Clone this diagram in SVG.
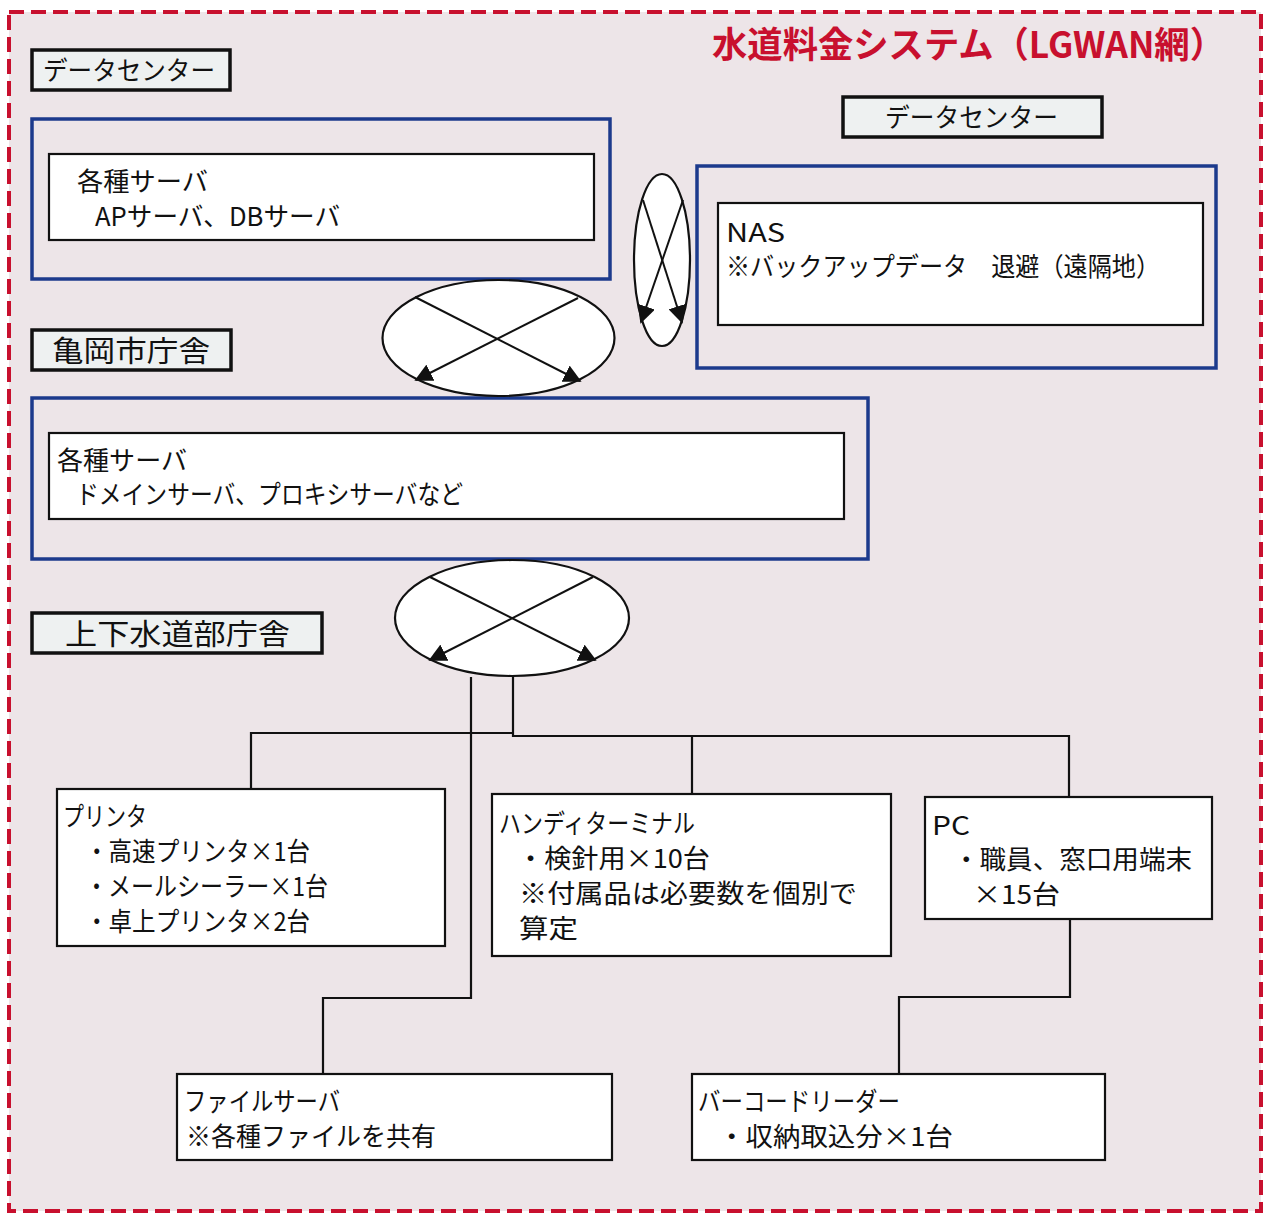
<svg xmlns="http://www.w3.org/2000/svg" width="1265" height="1214" viewBox="0 0 1265 1214">
<style>
text{font-family:"Noto Sans CJK JP","Noto Sans",sans-serif;fill:#111;}
.t{font-size:26px;}
.lbl{font-size:29px;}
.title{font-size:36px;font-weight:bold;fill:#c8102e;}
.tag{fill:#eef1f1;stroke:#111;stroke-width:3.5;}
.grp{fill:none;stroke:#1c3a8c;stroke-width:3.5;}
.box{fill:#fff;stroke:#111;stroke-width:2.2;}
.ell{fill:#fff;stroke:#111;stroke-width:2.2;}
.arr{stroke:#111;stroke-width:2;fill:none;marker-end:url(#ah);}
.wire{stroke:#111;stroke-width:2.2;fill:none;}
</style>
<defs>
<marker id="ah" viewBox="0 0 10 10" refX="9" refY="5" markerWidth="18" markerHeight="18" markerUnits="userSpaceOnUse" orient="auto">
<path d="M0,0 L10,5 L0,10 z" fill="#111"/>
</marker>
</defs>
<rect x="0" y="0" width="1265" height="1214" fill="#fff"/>
<rect x="9" y="12" width="1252" height="1199" fill="#ede5e8" stroke="#c8102e" stroke-width="4" stroke-dasharray="15 7"/>
<g id="title"><text class="title" x="712" y="58" textLength="513" lengthAdjust="spacingAndGlyphs">水道料金システム（LGWAN網）</text></g>

<g id="tag-dc1"><rect class="tag" x="32" y="50" width="198" height="40"/><text class="t" x="43" y="80" textLength="172" lengthAdjust="spacingAndGlyphs">データセンター</text></g>
<g id="tag-dc2"><rect class="tag" x="843" y="97" width="259" height="40"/><text class="t" x="885" y="127" textLength="173" lengthAdjust="spacingAndGlyphs">データセンター</text></g>
<g id="tag-city"><rect class="tag" x="32" y="330" width="199" height="40"/><text class="lbl" x="52" y="362" textLength="158" lengthAdjust="spacingAndGlyphs">亀岡市庁舎</text></g>
<g id="tag-water"><rect class="tag" x="32" y="613" width="290" height="40"/><text class="lbl" x="65" y="645" textLength="225" lengthAdjust="spacingAndGlyphs">上下水道部庁舎</text></g>

<g id="dc-servers">
<rect class="grp" x="32" y="119" width="578" height="160"/>
<rect class="box" x="49" y="154" width="545" height="86"/>
<text class="t" x="77" y="191" textLength="131" lengthAdjust="spacingAndGlyphs">各種サーバ</text>
<text class="t" x="95" y="226" textLength="245" lengthAdjust="spacingAndGlyphs">APサーバ、DBサーバ</text>
</g>
<g id="dc-nas">
<rect class="grp" x="697" y="166" width="519" height="202"/>
<rect class="box" x="718" y="203" width="485" height="122"/>
<text class="t" x="726" y="242" textLength="59" lengthAdjust="spacingAndGlyphs">NAS</text>
<text class="t" x="726" y="276" textLength="434" lengthAdjust="spacingAndGlyphs">※バックアップデータ　退避（遠隔地）</text>
</g>
<g id="city-servers">
<rect class="grp" x="32" y="398" width="836" height="161"/>
<rect class="box" x="49" y="433" width="795" height="86"/>
<text class="t" x="57" y="470" textLength="130" lengthAdjust="spacingAndGlyphs">各種サーバ</text>
<text class="t" x="76" y="504" textLength="387" lengthAdjust="spacingAndGlyphs">ドメインサーバ、プロキシサーバなど</text>
</g>

<g id="net1"><ellipse class="ell" cx="498.5" cy="338" rx="116" ry="58"/></g>
<g id="net2"><ellipse class="ell" cx="662" cy="260" rx="28" ry="86"/></g>
<g id="net3"><ellipse class="ell" cx="512" cy="618" rx="117" ry="58"/></g>

<g id="printer">
<rect class="box" x="57" y="789" width="388" height="157"/>
<text class="t" x="63" y="826" textLength="84" lengthAdjust="spacingAndGlyphs">プリンタ</text>
<text class="t" x="85" y="861" textLength="225" lengthAdjust="spacingAndGlyphs">・高速プリンタ×1台</text>
<text class="t" x="85" y="896" textLength="243" lengthAdjust="spacingAndGlyphs">・メールシーラー×1台</text>
<text class="t" x="85" y="931" textLength="225" lengthAdjust="spacingAndGlyphs">・卓上プリンタ×2台</text>
</g>
<g id="handy">
<rect class="box" x="492" y="794" width="399" height="162"/>
<text class="t" x="499" y="833" textLength="196" lengthAdjust="spacingAndGlyphs">ハンディターミナル</text>
<text class="t" x="517" y="868" textLength="193" lengthAdjust="spacingAndGlyphs">・検針用×10台</text>
<text class="t" x="519" y="903" textLength="338" lengthAdjust="spacingAndGlyphs">※付属品は必要数を個別で</text>
<text class="t" x="519" y="938" textLength="59" lengthAdjust="spacingAndGlyphs">算定</text>
</g>
<g id="pc">
<rect class="box" x="925" y="797" width="287" height="122"/>
<text class="t" x="932" y="835" textLength="38" lengthAdjust="spacingAndGlyphs">PC</text>
<text class="t" x="953" y="869" textLength="239" lengthAdjust="spacingAndGlyphs">・職員、窓口用端末</text>
<text class="t" x="973" y="904" textLength="87" lengthAdjust="spacingAndGlyphs">×15台</text>
</g>
<g id="fileserver">
<rect class="box" x="177" y="1074" width="435" height="86"/>
<text class="t" x="184" y="1111" textLength="156" lengthAdjust="spacingAndGlyphs">ファイルサーバ</text>
<text class="t" x="186" y="1146" textLength="250" lengthAdjust="spacingAndGlyphs">※各種ファイルを共有</text>
</g>
<g id="barcode">
<rect class="box" x="692" y="1074" width="413" height="86"/>
<text class="t" x="698" y="1111" textLength="202" lengthAdjust="spacingAndGlyphs">バーコードリーダー</text>
<text class="t" x="718" y="1146" textLength="235" lengthAdjust="spacingAndGlyphs">・収納取込分×1台</text>
</g>

<g id="connectors">
<line class="arr" x1="415" y1="297" x2="580" y2="381"/>
<line class="arr" x1="578" y1="298" x2="416" y2="380"/>
<line class="arr" x1="643" y1="200" x2="682" y2="322"/>
<line class="arr" x1="683" y1="200" x2="641" y2="322"/>
<line class="arr" x1="430" y1="577" x2="595" y2="660"/>
<line class="arr" x1="593" y1="577" x2="430" y2="660"/>
<polyline class="wire" points="251,789 251,733 513,733"/>
<polyline class="wire" points="513,676 513,736 692,736 692,794"/>
<polyline class="wire" points="692,736 1069,736 1069,797"/>
<polyline class="wire" points="471,677 471,998 323,998 323,1074"/>
<polyline class="wire" points="1070,919 1070,997 899,997 899,1074"/>
</g>
</svg>
